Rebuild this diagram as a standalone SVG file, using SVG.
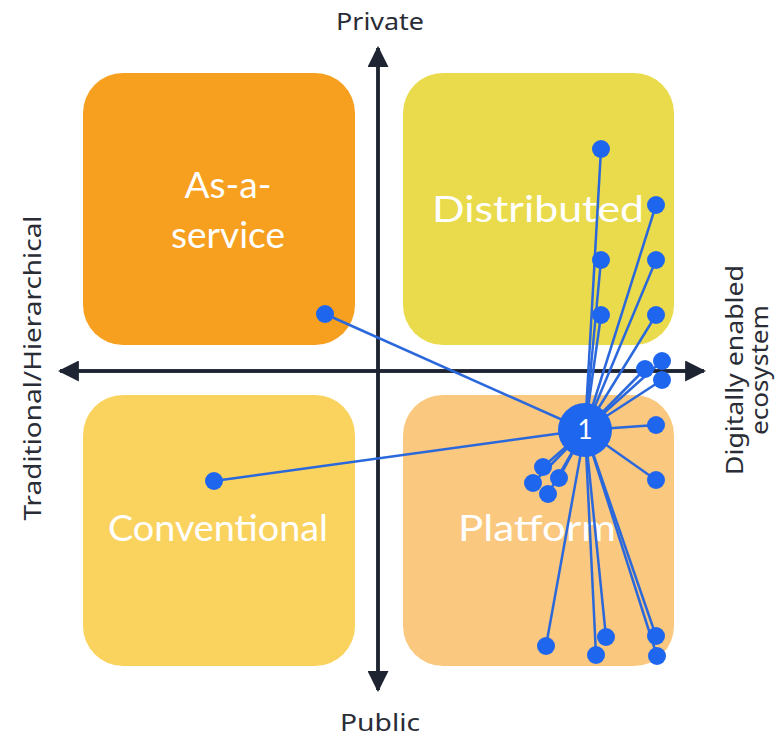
<svg xmlns="http://www.w3.org/2000/svg" width="775" height="737" viewBox="0 0 775 737">
<defs>
<style>
.box{stroke:none}
.bl{font-family:Lato,"Open Sans",sans-serif;font-size:37px;fill:#ffffff;text-anchor:middle}
.ax{font-family:"Noto Sans",Lato,sans-serif;font-size:23px;fill:#2a2d36;text-anchor:middle}
.axis{stroke:#1f2433;stroke-width:3.5;fill:none}
.c{stroke:#2a68dc;stroke-width:2.5;fill:none}
.d{fill:#1f66ee}
</style>
<marker id="ah" viewBox="0 0 10 10" refX="9" refY="5" markerWidth="6" markerHeight="6" orient="auto" markerUnits="strokeWidth">
<path d="M0,0 L10,5 L0,10 z" fill="#1f2433"/>
</marker>
</defs>
<rect width="775" height="737" fill="#ffffff"/>
<g id="as-a-service"><rect class="box" x="83" y="73" width="272" height="272" rx="40" fill="#f7a01f"/><text class="bl" x="228" y="198">As-a-</text><text class="bl" x="228" y="248">service</text></g>
<g id="distributed"><rect class="box" x="403" y="73" width="271" height="272" rx="40" fill="#eadb4c"/><text class="bl" x="538" y="222" textLength="212" lengthAdjust="spacingAndGlyphs">Distributed</text></g>
<g id="conventional"><rect class="box" x="83" y="395" width="272" height="271" rx="40" fill="#fad35f"/><text class="bl" x="218" y="541" textLength="220" lengthAdjust="spacingAndGlyphs">Conventional</text></g>
<g id="platform"><rect class="box" x="403" y="395" width="271" height="271" rx="40" fill="#fac87f"/><text class="bl" x="537" y="541" textLength="158" lengthAdjust="spacingAndGlyphs">Platform</text></g>
<g id="axes">
<line class="axis" x1="378" y1="690" x2="378" y2="48" marker-end="url(#ah)"/>
<line class="axis" x1="378" y1="48" x2="378" y2="690" marker-end="url(#ah)"/>
<line class="axis" x1="60" y1="371" x2="704" y2="371" marker-end="url(#ah)"/>
<line class="axis" x1="704" y1="371" x2="60" y2="371" marker-end="url(#ah)"/>
</g>
<g id="axis-labels">
<text class="ax" x="380" y="30" textLength="88" lengthAdjust="spacingAndGlyphs">Private</text>
<text class="ax" x="380" y="731" textLength="80" lengthAdjust="spacingAndGlyphs">Public</text>
<text class="ax" transform="translate(41,368) rotate(-90)" textLength="305" lengthAdjust="spacingAndGlyphs">Traditional/Hierarchical</text>
<text class="ax" transform="translate(743,370) rotate(-90)" textLength="210" lengthAdjust="spacingAndGlyphs">Digitally enabled</text>
<text class="ax" transform="translate(768,370) rotate(-90)" textLength="130" lengthAdjust="spacingAndGlyphs">ecosystem</text>
</g>
<g id="connectors">
<line class="c" x1="585" y1="430" x2="325" y2="314"/>
<line class="c" x1="585" y1="430" x2="214" y2="481"/>
<line class="c" x1="585" y1="430" x2="601" y2="149"/>
<line class="c" x1="585" y1="430" x2="656" y2="205"/>
<line class="c" x1="585" y1="430" x2="601" y2="260"/>
<line class="c" x1="585" y1="430" x2="656" y2="260"/>
<line class="c" x1="585" y1="430" x2="601" y2="315"/>
<line class="c" x1="585" y1="430" x2="656" y2="315"/>
<line class="c" x1="585" y1="430" x2="645" y2="369"/>
<line class="c" x1="585" y1="430" x2="662" y2="361"/>
<line class="c" x1="585" y1="430" x2="662" y2="380"/>
<line class="c" x1="585" y1="430" x2="656" y2="425"/>
<line class="c" x1="585" y1="430" x2="656" y2="480"/>
<line class="c" x1="585" y1="430" x2="543" y2="467"/>
<line class="c" x1="585" y1="430" x2="559" y2="478"/>
<line class="c" x1="585" y1="430" x2="533" y2="483"/>
<line class="c" x1="585" y1="430" x2="548" y2="494"/>
<line class="c" x1="585" y1="430" x2="546" y2="646"/>
<line class="c" x1="585" y1="430" x2="596" y2="655"/>
<line class="c" x1="585" y1="430" x2="606" y2="637"/>
<line class="c" x1="585" y1="430" x2="656" y2="636"/>
<line class="c" x1="585" y1="430" x2="657" y2="656"/>
</g>
<g id="dots">
<circle class="d" cx="325" cy="314" r="9"/>
<circle class="d" cx="214" cy="481" r="9"/>
<circle class="d" cx="601" cy="149" r="9"/>
<circle class="d" cx="656" cy="205" r="9"/>
<circle class="d" cx="601" cy="260" r="9"/>
<circle class="d" cx="656" cy="260" r="9"/>
<circle class="d" cx="601" cy="315" r="9"/>
<circle class="d" cx="656" cy="315" r="9"/>
<circle class="d" cx="645" cy="369" r="9"/>
<circle class="d" cx="662" cy="361" r="9"/>
<circle class="d" cx="662" cy="380" r="9"/>
<circle class="d" cx="656" cy="425" r="9"/>
<circle class="d" cx="656" cy="480" r="9"/>
<circle class="d" cx="543" cy="467" r="9"/>
<circle class="d" cx="559" cy="478" r="9"/>
<circle class="d" cx="533" cy="483" r="9"/>
<circle class="d" cx="548" cy="494" r="9"/>
<circle class="d" cx="546" cy="646" r="9"/>
<circle class="d" cx="596" cy="655" r="9"/>
<circle class="d" cx="606" cy="637" r="9"/>
<circle class="d" cx="656" cy="636" r="9"/>
<circle class="d" cx="657" cy="656" r="9"/>
</g>
<g id="hub"><circle class="d" cx="585" cy="430" r="27"/><text x="585" y="439" text-anchor="middle" font-family="Lato,sans-serif" font-size="26" fill="#ffffff">1</text></g>
</svg>
